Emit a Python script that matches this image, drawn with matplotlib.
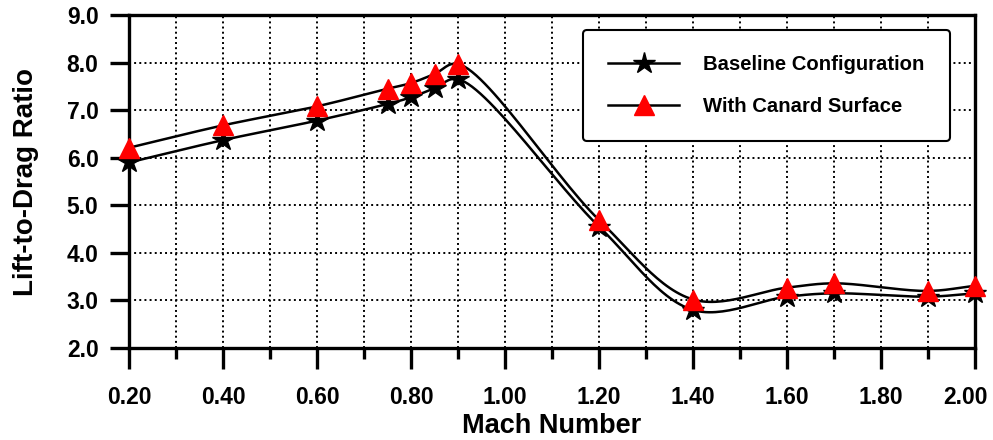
import numpy as np
import matplotlib
matplotlib.use('Agg')
from matplotlib import pyplot as plt
from matplotlib.ticker import MultipleLocator
from matplotlib.transforms import ScaledTranslation

plt.rcParams['font.family'] = ['Liberation Sans', 'DejaVu Sans']
plt.rcParams['font.weight'] = 'bold'

mach = [0.2, 0.4, 0.6, 0.75, 0.8, 0.85, 0.9, 1.2, 1.4, 1.6, 1.7, 1.9, 2.0]
baseline = [5.9, 6.37, 6.78, 7.13, 7.27, 7.46, 7.65, 4.55, 2.8, 3.08, 3.15, 3.08, 3.15]
canard = [6.21, 6.68, 7.08, 7.45, 7.57, 7.76, 7.97, 4.69, 3.02, 3.27, 3.36, 3.2, 3.31]
x_ticks = [0.2, 0.4, 0.6, 0.8, 1.0, 1.2, 1.4, 1.6, 1.8, 2.0]
y_ticks = [2.0, 3.0, 4.0, 5.0, 6.0, 7.0, 8.0, 9.0]


def smooth(x, y, sx=470.0, sy=47.6, n=30):
    # centripetal catmull-rom in screen-ish units, only for the drawn curve
    P = np.column_stack([np.asarray(x) * sx, np.asarray(y) * sy])
    P = np.vstack([2 * P[0] - P[1], P, 2 * P[-1] - P[-2]])
    out = []
    for i in range(1, len(P) - 2):
        p0, p1, p2, p3 = P[i - 1], P[i], P[i + 1], P[i + 2]
        t0 = 0.0
        t1 = t0 + np.linalg.norm(p1 - p0) ** 0.5
        t2 = t1 + np.linalg.norm(p2 - p1) ** 0.5
        t3 = t2 + np.linalg.norm(p3 - p2) ** 0.5
        t = np.linspace(t1, t2, n)[:, None]
        a1 = (t1 - t) / (t1 - t0) * p0 + (t - t0) / (t1 - t0) * p1
        a2 = (t2 - t) / (t2 - t1) * p1 + (t - t1) / (t2 - t1) * p2
        a3 = (t3 - t) / (t3 - t2) * p2 + (t - t2) / (t3 - t2) * p3
        b1 = (t2 - t) / (t2 - t0) * a1 + (t - t0) / (t2 - t0) * a2
        b2 = (t3 - t) / (t3 - t1) * a2 + (t - t1) / (t3 - t1) * a3
        c = (t2 - t) / (t2 - t1) * b1 + (t - t1) / (t2 - t1) * b2
        out.append(c)
    out = np.vstack(out)
    return out[:, 0] / sx, out[:, 1] / sy


fig = plt.figure(figsize=(9.93, 4.4), dpi=100)
ax = fig.add_axes([0.13, 0.209, 0.852, 0.757])

for vals, mk, col, ms, lab in [(baseline, '*', 'black', 16, 'Baseline Configuration'),
                               (canard, '^', 'red', 14, 'With Canard Surface')]:
    xs, ys = smooth(mach, vals)
    ax.plot(xs, ys, color='black', lw=1.8, zorder=3, clip_on=False)
    ax.plot(mach, vals, ls='none', marker=mk, color=col, mec=col, ms=ms, zorder=4, clip_on=False)
    ax.plot([], [], color='black', lw=1.8, marker=mk, mfc=col, mec=col, ms=ms, label=lab)

ax.set_xlim(0.2, 2.0)
ax.set_ylim(2.0, 9.0)
ax.set_xticks(x_ticks)
ax.set_xticklabels([f'{v:.2f}' for v in x_ticks])
ax.set_yticks(y_ticks)
ax.set_yticklabels([f'{v:.1f}' for v in y_ticks])
ax.xaxis.set_minor_locator(MultipleLocator(0.1))
ax.grid(which='both', axis='x', color='black', ls=':', lw=1.4)
ax.grid(which='major', axis='y', color='black', ls=':', lw=1.4)
ax.tick_params(axis='x', which='major', direction='out', length=15, width=2.4, labelsize=16.5, pad=12)
ax.tick_params(axis='x', which='minor', direction='out', length=8, width=2.4)
ax.tick_params(axis='y', direction='out', length=14, width=2.4, labelsize=16.5, pad=8)
for s in ax.spines.values():
    s.set_linewidth(2.4)

# last label pulled in a little so it stays on the canvas
last = ax.get_xticklabels()[-1]
last.set_transform(last.get_transform() + ScaledTranslation(-10 / 100, 0, fig.dpi_scale_trans))

ax.set_xlabel('Mach Number', fontsize=19.5, fontweight='bold', labelpad=3)
ax.set_ylabel('Lift-to-Drag Ratio', fontsize=20, fontweight='bold', labelpad=20)

leg = ax.legend(loc='upper right', bbox_to_anchor=(0.9705, 0.955), fontsize=14.6,
                frameon=True, fancybox=True, borderpad=1.25, labelspacing=1.1,
                handlelength=3.5, handletextpad=1.2, borderaxespad=0)
leg.get_frame().set_edgecolor('black')
leg.get_frame().set_linewidth(1.5)
leg.get_frame().set_alpha(1)
for t in leg.get_texts():
    t.set_fontweight('bold')

fig.savefig('out.png', dpi=100)
